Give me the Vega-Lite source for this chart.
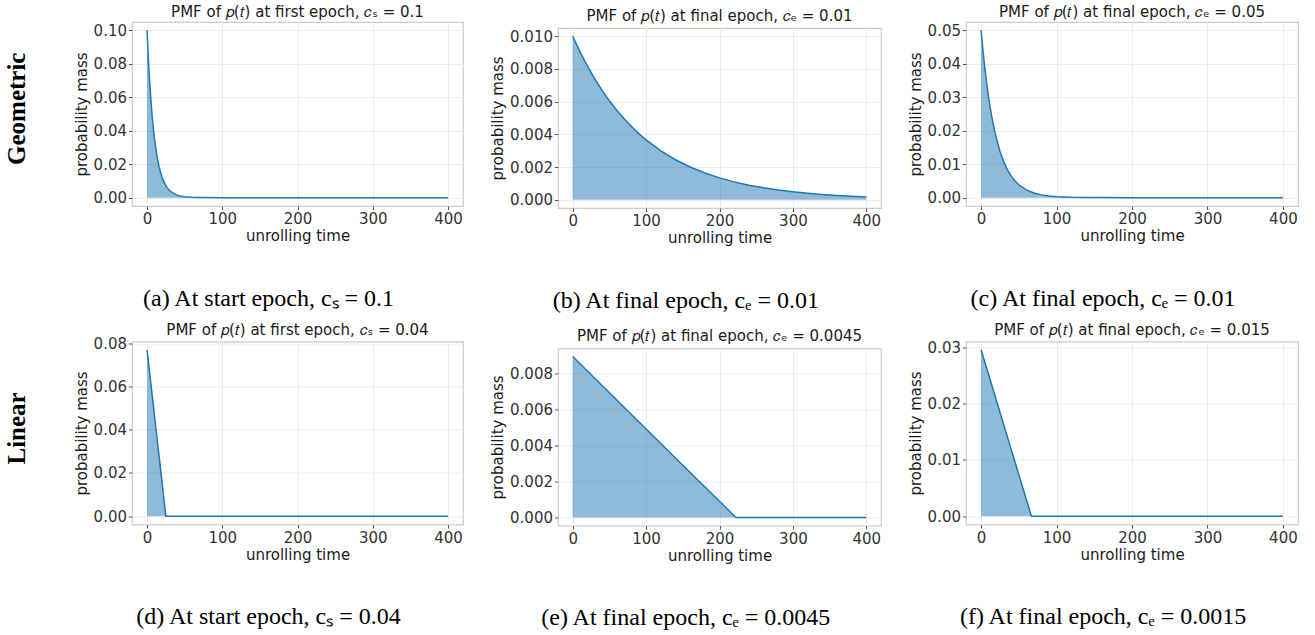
{
  "$schema": "https://vega.github.io/schema/vega-lite/v6.json",
  "padding": {"left": 4, "top": 4, "right": 0, "bottom": 0},
  "background": "white",
  "spacing": 8.5,
  "config": {
    "axis": {"labelFont": "DejaVu Sans", "labelFontSize": 15, "labelColor": "#333333", "titleFont": "DejaVu Sans", "titleFontSize": 15, "titleFontWeight": "normal", "titleColor": "#1a1a1a", "gridColor": "#ebebeb", "gridWidth": 1, "domain": false, "tickColor": "#555555", "tickSize": 3.5, "labelPadding": 2, "titlePadding": 4, "labelFlush": false},
    "axisX": {"labelPadding": 2, "titlePadding": 2},
    "view": {"stroke": "#cccccc", "strokeWidth": 1.2},
    "title": {"font": "DejaVu Sans", "fontSize": 15, "fontWeight": "normal", "color": "#1a1a1a", "offset": 2}
  },
  "datasets": {
    "a": [{"t":0,"p":0.1},{"t":1,"p":0.09},{"t":2,"p":0.081},{"t":3,"p":0.0729},{"t":4,"p":0.06561},{"t":5,"p":0.05905},{"t":6,"p":0.05314},{"t":7,"p":0.04783},{"t":8,"p":0.04305},{"t":9,"p":0.03874},{"t":10,"p":0.03487},{"t":12,"p":0.02824},{"t":14,"p":0.02288},{"t":16,"p":0.01853},{"t":18,"p":0.01501},{"t":20,"p":0.01216},{"t":22,"p":0.00985},{"t":24,"p":0.00798},{"t":26,"p":0.00646},{"t":28,"p":0.00523},{"t":30,"p":0.00424},{"t":35,"p":0.0025},{"t":40,"p":0.00148},{"t":45,"p":0.00087},{"t":50,"p":0.00052},{"t":60,"p":0.00018},{"t":70,"p":0.00006},{"t":80,"p":0.00002},{"t":100,"p":0},{"t":200,"p":0},{"t":300,"p":0},{"t":400,"p":0}],
    "b": [{"t":0,"p":0.01},{"t":10,"p":0.0090438},{"t":20,"p":0.0081791},{"t":30,"p":0.007397},{"t":40,"p":0.0066897},{"t":50,"p":0.0060501},{"t":60,"p":0.0054716},{"t":70,"p":0.0049484},{"t":80,"p":0.0044752},{"t":90,"p":0.0040473},{"t":100,"p":0.0036603},{"t":120,"p":0.0029939},{"t":140,"p":0.0024487},{"t":160,"p":0.0020029},{"t":180,"p":0.0016382},{"t":200,"p":0.0013398},{"t":220,"p":0.0010959},{"t":240,"p":0.0008963},{"t":260,"p":0.0007331},{"t":280,"p":0.0005996},{"t":300,"p":0.0004905},{"t":320,"p":0.0004012},{"t":340,"p":0.0003281},{"t":360,"p":0.0002684},{"t":380,"p":0.0002195},{"t":400,"p":0.0001795}],
    "c": [{"t":0,"p":0.05},{"t":2,"p":0.045125},{"t":4,"p":0.040726},{"t":6,"p":0.036755},{"t":8,"p":0.033171},{"t":10,"p":0.029937},{"t":12,"p":0.027018},{"t":14,"p":0.024384},{"t":16,"p":0.022006},{"t":18,"p":0.019861},{"t":20,"p":0.017924},{"t":25,"p":0.01387},{"t":30,"p":0.010732},{"t":35,"p":0.008304},{"t":40,"p":0.006426},{"t":45,"p":0.004972},{"t":50,"p":0.003847},{"t":60,"p":0.002303},{"t":70,"p":0.001379},{"t":80,"p":0.000826},{"t":90,"p":0.000495},{"t":100,"p":0.000296},{"t":120,"p":0.000106},{"t":140,"p":0.000038},{"t":160,"p":0.000014},{"t":200,"p":0.000002},{"t":300,"p":0},{"t":400,"p":0}],
    "d": [{"t":0,"p":0.07692},{"t":5,"p":0.06154},{"t":10,"p":0.04615},{"t":15,"p":0.03077},{"t":20,"p":0.01538},{"t":25,"p":0},{"t":100,"p":0},{"t":200,"p":0},{"t":300,"p":0},{"t":400,"p":0}],
    "e": [{"t":0,"p":0.00896},{"t":50,"p":0.00694},{"t":100,"p":0.00493},{"t":150,"p":0.00291},{"t":200,"p":0.0009},{"t":222,"p":0.00001},{"t":223,"p":0},{"t":300,"p":0},{"t":400,"p":0}],
    "f": [{"t":0,"p":0.02956},{"t":20,"p":0.02069},{"t":40,"p":0.01182},{"t":60,"p":0.00296},{"t":66,"p":0.0003},{"t":67,"p":0},{"t":100,"p":0},{"t":200,"p":0},{"t":300,"p":0},{"t":400,"p":0}],
    "empty": []
  },
  "vconcat": [
    {
      "title": {"text": "Geometric", "orient": "left", "font": "Liberation Serif", "fontSize": 25, "fontWeight": "bold", "color": "#000000", "offset": 44, "anchor": "middle", "dx": 50},
      "spacing": 25,
      "hconcat": [
        {
          "title": {"text": "(a) At start epoch, cₛ = 0.1", "orient": "bottom", "font": "Liberation Serif", "fontSize": 24, "color": "#000000", "offset": 43, "frame": "bounds", "anchor": "middle"},
          "vconcat": [{
            "width": 331, "height": 184,
            "data": {"name": "a"},
            "title": {"text": "PMF of 𝑝(𝑡) at first epoch, 𝑐ₛ = 0.1"},
            "encoding": {
              "x": {"field": "t", "type": "quantitative", "scale": {"domain": [-20, 420], "nice": false, "zero": false}, "axis": {"values": [0, 100, 200, 300, 400], "format": "d", "title": "unrolling time"}},
              "y": {"field": "p", "type": "quantitative", "scale": {"domain": [-0.005, 0.105], "nice": false, "zero": false}, "axis": {"values": [0, 0.02, 0.04, 0.06, 0.08, 0.1], "format": ".2f", "title": "probability mass"}}
            },
            "layer": [
              {"mark": {"type": "area", "color": "#1f77b4", "opacity": 0.5, "clip": true}, "encoding": {"y2": {"datum": 0}}},
              {"mark": {"type": "line", "color": "#1f77b4", "strokeWidth": 1.5, "clip": true}, "encoding": {}}
            ]
          }]
        },
        {
          "title": {"text": "(b) At final epoch, cₑ = 0.01", "orient": "bottom", "font": "Liberation Serif", "fontSize": 24, "color": "#000000", "offset": 43, "frame": "bounds", "anchor": "middle"},
          "spacing": 1,
          "vconcat": [
            {
              "width": 323, "height": 4,
              "data": {"name": "empty"},
              "mark": "point",
              "view": {"stroke": null},
              "title": {"text": "PMF of 𝑝(𝑡) at final epoch, 𝑐ₑ = 0.01", "offset": -2}
            },
            {
              "width": 323, "height": 180,
              "data": {"name": "b"},
              "encoding": {
                "x": {"field": "t", "type": "quantitative", "scale": {"domain": [-20, 420], "nice": false, "zero": false}, "axis": {"values": [0, 100, 200, 300, 400], "format": "d", "title": "unrolling time"}},
                "y": {"field": "p", "type": "quantitative", "scale": {"domain": [-0.0005, 0.0105], "nice": false, "zero": false}, "axis": {"values": [0, 0.002, 0.004, 0.006, 0.008, 0.01], "format": ".3f", "title": "probability mass"}}
              },
              "layer": [
                {"mark": {"type": "area", "color": "#1f77b4", "opacity": 0.5, "clip": true}, "encoding": {"y2": {"datum": 0}}},
                {"mark": {"type": "line", "color": "#1f77b4", "strokeWidth": 1.5, "clip": true}, "encoding": {}}
              ]
            }
          ]
        },
        {
          "title": {"text": "(c) At final epoch, cₑ = 0.01", "orient": "bottom", "font": "Liberation Serif", "fontSize": 24, "color": "#000000", "offset": 43, "frame": "bounds", "anchor": "middle"},
          "vconcat": [{
            "width": 332, "height": 184,
            "data": {"name": "c"},
            "title": {"text": "PMF of 𝑝(𝑡) at final epoch, 𝑐ₑ = 0.05"},
            "encoding": {
              "x": {"field": "t", "type": "quantitative", "scale": {"domain": [-20, 420], "nice": false, "zero": false}, "axis": {"values": [0, 100, 200, 300, 400], "format": "d", "title": "unrolling time"}},
              "y": {"field": "p", "type": "quantitative", "scale": {"domain": [-0.0025, 0.0525], "nice": false, "zero": false}, "axis": {"values": [0, 0.01, 0.02, 0.03, 0.04, 0.05], "format": ".2f", "title": "probability mass"}}
            },
            "layer": [
              {"mark": {"type": "area", "color": "#1f77b4", "opacity": 0.5, "clip": true}, "encoding": {"y2": {"datum": 0}}},
              {"mark": {"type": "line", "color": "#1f77b4", "strokeWidth": 1.5, "clip": true}, "encoding": {}}
            ]
          }]
        }
      ]
    },
    {
      "title": {"text": "Linear", "orient": "left", "font": "Liberation Serif", "fontSize": 25, "fontWeight": "bold", "color": "#000000", "offset": 44, "anchor": "middle", "dx": 48},
      "spacing": 25,
      "hconcat": [
        {
          "title": {"text": "(d) At start epoch, cₛ = 0.04", "orient": "bottom", "font": "Liberation Serif", "fontSize": 24, "color": "#000000", "offset": 42.5, "frame": "bounds", "anchor": "middle"},
          "vconcat": [{
            "width": 331, "height": 183,
            "data": {"name": "d"},
            "title": {"text": "PMF of 𝑝(𝑡) at first epoch, 𝑐ₛ = 0.04", "offset": -2.25},
            "encoding": {
              "x": {"field": "t", "type": "quantitative", "scale": {"domain": [-20, 420], "nice": false, "zero": false}, "axis": {"values": [0, 100, 200, 300, 400], "format": "d", "title": "unrolling time"}},
              "y": {"field": "p", "type": "quantitative", "scale": {"domain": [-0.00385, 0.08077], "nice": false, "zero": false}, "axis": {"values": [0, 0.02, 0.04, 0.06, 0.08], "format": ".2f", "title": "probability mass"}}
            },
            "layer": [
              {"mark": {"type": "area", "color": "#1f77b4", "opacity": 0.5, "clip": true}, "encoding": {"y2": {"datum": 0}}},
              {"mark": {"type": "line", "color": "#1f77b4", "strokeWidth": 1.5, "clip": true}, "encoding": {}}
            ]
          }]
        },
        {
          "title": {"text": "(e) At final epoch, cₑ = 0.0045", "orient": "bottom", "font": "Liberation Serif", "fontSize": 24, "color": "#000000", "offset": 42.5, "frame": "bounds", "anchor": "middle"},
          "spacing": 2,
          "vconcat": [
            {
              "width": 323, "height": 4,
              "data": {"name": "empty"},
              "mark": "point",
              "view": {"stroke": null},
              "title": {"text": "PMF of 𝑝(𝑡) at final epoch, 𝑐ₑ = 0.0045", "offset": -2}
            },
            {
              "width": 323, "height": 177,
              "data": {"name": "e"},
              "encoding": {
                "x": {"field": "t", "type": "quantitative", "scale": {"domain": [-20, 420], "nice": false, "zero": false}, "axis": {"values": [0, 100, 200, 300, 400], "format": "d", "title": "unrolling time"}},
                "y": {"field": "p", "type": "quantitative", "scale": {"domain": [-0.000448, 0.009408], "nice": false, "zero": false}, "axis": {"values": [0, 0.002, 0.004, 0.006, 0.008], "format": ".3f", "title": "probability mass"}}
              },
              "layer": [
                {"mark": {"type": "area", "color": "#1f77b4", "opacity": 0.5, "clip": true}, "encoding": {"y2": {"datum": 0}}},
                {"mark": {"type": "line", "color": "#1f77b4", "strokeWidth": 1.5, "clip": true}, "encoding": {}}
              ]
            }
          ]
        },
        {
          "title": {"text": "(f) At final epoch, cₑ = 0.0015", "orient": "bottom", "font": "Liberation Serif", "fontSize": 24, "color": "#000000", "offset": 42.5, "frame": "bounds", "anchor": "middle"},
          "vconcat": [{
            "width": 332, "height": 183,
            "data": {"name": "f"},
            "title": {"text": "PMF of 𝑝(𝑡) at final epoch, 𝑐ₑ = 0.015", "offset": 2},
            "encoding": {
              "x": {"field": "t", "type": "quantitative", "scale": {"domain": [-20, 420], "nice": false, "zero": false}, "axis": {"values": [0, 100, 200, 300, 400], "format": "d", "title": "unrolling time"}},
              "y": {"field": "p", "type": "quantitative", "scale": {"domain": [-0.001478, 0.031038], "nice": false, "zero": false}, "axis": {"values": [0, 0.01, 0.02, 0.03], "format": ".2f", "title": "probability mass"}}
            },
            "layer": [
              {"mark": {"type": "area", "color": "#1f77b4", "opacity": 0.5, "clip": true}, "encoding": {"y2": {"datum": 0}}},
              {"mark": {"type": "line", "color": "#1f77b4", "strokeWidth": 1.5, "clip": true}, "encoding": {}}
            ]
          }]
        }
      ]
    }
  ]
}
